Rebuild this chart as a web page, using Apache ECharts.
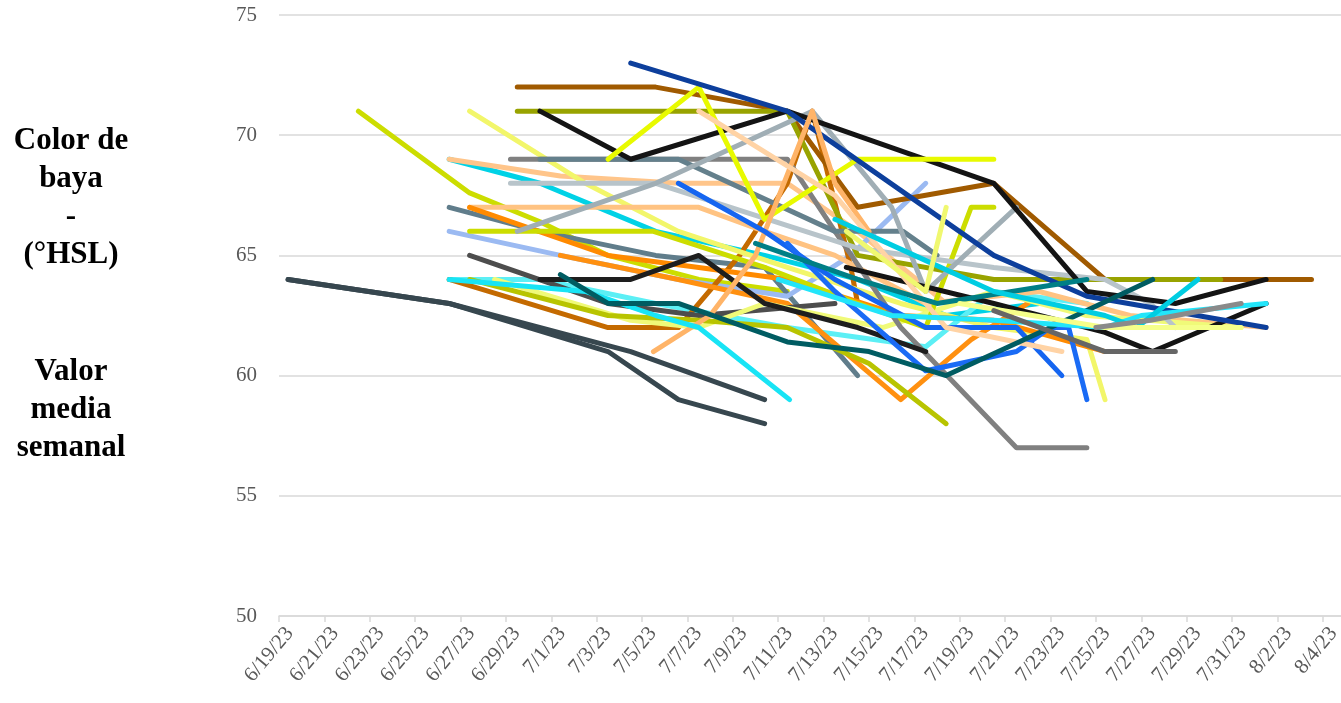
<!DOCTYPE html>
<html>
<head>
<meta charset="utf-8">
<script src="https://cdn.jsdelivr.net/npm/echarts@6/dist/echarts.min.js"></script>
<style>
  html, body { margin: 0; padding: 0; background: #fff; }
  #main { width: 1341px; height: 703px; }
</style>
</head>
<body>
<div id="main"></div>
<script>
// eje x: dias desde 6/19/23, eje y: color de baya (°HSL)
const startDate = new Date(2023, 5, 19)
const tickDays = [0, 2, 4, 6, 8, 10, 12, 14, 16, 18, 20, 22, 24, 26, 28, 30, 32, 34, 36, 38, 40, 42, 44, 46]
const yTicks = [50, 55, 60, 65, 70, 75]
const titleTop = ["Color de", "baya", "-", "(°HSL)"]
const titleBottom = ["Valor", "media", "semanal"]

// series: [dia, valor]
const s01 = [[0.4, 64], [7.5, 63], [14.5, 61], [17.6, 59], [21.4, 58]]
const s02 = [[0.4, 64], [7.5, 63], [15.5, 61], [21.4, 59]]
const s03 = [[3.5, 71], [8.4, 67.6], [11.5, 66.4], [14.5, 65], [18.5, 64], [22.4, 63.5]]
const s04 = [[7.5, 69], [11.5, 68], [16.6, 66], [21.4, 65], [25.5, 64], [29.4, 62.5], [33.5, 63]]
const s05 = [[7.5, 69], [12.4, 68.3], [17.6, 68], [22.4, 68], [25.5, 66], [29.4, 63]]
const s06 = [[7.5, 67], [11.5, 66], [16.6, 65], [21.4, 64.5], [25.5, 60]]
const s07 = [[7.5, 66], [12.4, 65], [17.6, 64], [22.4, 63.3], [25.2, 65], [28.5, 68]]
const s08 = [[7.5, 64], [11.5, 64], [16.6, 63], [22.4, 62], [28.5, 61.2], [31.5, 63.5], [35.6, 63]]
const s09 = [[7.5, 64], [14.5, 62], [17.6, 62], [20.3, 65], [22.4, 68], [23.5, 71], [25.2, 64.5], [25.5, 63]]
const s10 = [[8.4, 71], [13.5, 68], [17.6, 66], [22.4, 64.5], [27.4, 63], [31.5, 62], [35.6, 61.5], [36.4, 59]]
const s11 = [[8.4, 67], [13.5, 67], [18.5, 67], [21.4, 66], [24.5, 65], [28.5, 63], [33.5, 63.5], [37.5, 62.5], [43.5, 62]]
const s12 = [[8.4, 67], [14.5, 65], [18.5, 64.5], [22.4, 64], [27.4, 62.5], [31.5, 62.3], [36.4, 61]]
const s13 = [[12.4, 65], [17.6, 64], [22.4, 63], [27.4, 59], [30.5, 61.5], [33, 63]]
const s14 = [[8.4, 65], [14.5, 63], [18.5, 62.5], [24.5, 63]]
const s15 = [[9.5, 64], [15.5, 62.3], [18.5, 62], [21.4, 63], [26.6, 62], [31.5, 63.5], [35.6, 62.5], [42.4, 62]]
const s16 = [[8.4, 64], [14.5, 62.5], [18.5, 62.3], [22.4, 62], [26, 60.5], [29.4, 58]]
const s17 = [[8.4, 66], [16.5, 66], [21.4, 64.5], [25.5, 63], [28.5, 62], [30.5, 67], [31.5, 67]]
const s18 = [[10.5, 72], [16.6, 72], [22.4, 71], [25.5, 67], [31.5, 68], [36.4, 64], [45.5, 64]]
const s19 = [[10.5, 71], [22.4, 71], [25.5, 65], [31.5, 64], [41.5, 64]]
const s20 = [[10.2, 69], [22.4, 69], [24.5, 66], [27.4, 62], [32.5, 57], [35.6, 57]]
const s21 = [[11.5, 69], [17.6, 69], [24.5, 66], [27.5, 66], [29, 65]]
const s22 = [[10.2, 68], [16.6, 68], [25.5, 65.3], [31.5, 64.5], [36.4, 64], [38.4, 63], [39.5, 62]]
const s23 = [[10.5, 66], [16.6, 68], [23.5, 71], [27, 67], [28.5, 63.5], [32.5, 67]]
const s24 = [[11.5, 71], [15.5, 69], [22.4, 71], [31.5, 68], [35.6, 63.5], [39.5, 63], [43.5, 64]]
const s25 = [[11.5, 64], [15.5, 64], [18.5, 65], [21.4, 63], [25.5, 62], [28.5, 61]]
const s26 = [[25, 64.5], [31.5, 63], [36.4, 61.8], [38.5, 61], [43.5, 63]]
const s27 = [[14.5, 69], [18.5, 72], [21.4, 66.5], [25.5, 69], [31.5, 69]]
const s28 = [[15.5, 73], [22.4, 71], [31.5, 65], [35.6, 63.3], [43.5, 62]]
const s29 = [[16.5, 61], [19, 62.5], [21, 65], [23.5, 71], [24.5, 68], [26, 66]]
const s30 = [[17.6, 68], [21.4, 66], [24.5, 64], [28.5, 62], [32.5, 62], [34.5, 60]]
const s31 = [[22.4, 65.5], [24.5, 63.5], [28.5, 60.2], [32.5, 61], [34, 62], [34.8, 62], [35.6, 59]]
const s32 = [[7.5, 64], [13.5, 63.5], [16.6, 62.5], [18.5, 62], [22.5, 59]]
const s33 = [[18.5, 71], [24.5, 67.5], [28.5, 63], [29.4, 62], [34.5, 61]]
const s34 = [[12.4, 64.2], [14.5, 63], [17.6, 63], [22.4, 61.4], [26, 61], [29.4, 60], [34, 62], [38.5, 64]]
const s35 = [[21, 65.5], [25.5, 64], [29, 63], [35.6, 64]]
const s36 = [[22, 64], [27, 62.5], [31.5, 62.3], [36.4, 62], [38, 62.5], [43.5, 63]]
const s37 = [[24.5, 66.5], [28, 65], [31.5, 63.5], [36.4, 62.5], [37.8, 62], [40.5, 64]]
const s38 = [[30, 63], [36.4, 62], [42.4, 62]]
const s39 = [[36, 62], [38.4, 62.3], [42.4, 63]]
const s40 = [[31.5, 62.7], [36.4, 61], [39.5, 61]]
const s41 = [[25, 66], [28.5, 63.5], [29.4, 67]]

const seriesData = [s01, s02, s03, s04, s05, s06, s07, s08, s09, s10, s11, s12, s13, s14, s15, s16, s17, s18, s19, s20,
  s21, s22, s23, s24, s25, s26, s27, s28, s29, s30, s31, s32, s33, s34, s35, s36, s37, s38, s39, s40, s41]

const seriesColors = ['#37474F', '#37474F', '#CCDD00', '#00D2E6', '#FFC58A', '#607D8B', '#9BBAF2', '#5CEFF5', '#C46A00', '#F2F66A',
  '#FFC382', '#FF8A00', '#FF9010', '#4D4D4D', '#F0FA78', '#B8C400', '#CCDD00', '#A05A00', '#98A300', '#808080',
  '#64808C', '#B8C4CA', '#A0AEB5', '#141414', '#1E1E1E', '#141414', '#E8FA00', '#0D3F9C', '#FFB468', '#1565F0',
  '#1A6BF5', '#18E4F5', '#FFD3A5', '#005C62', '#007F86', '#22E5FA', '#00CDE2', '#F5FF8A', '#8A8A8A', '#666666', '#F0F870']

function dayLabel(d) {
  let t = new Date(startDate.getTime() + d * 86400000)
  return (t.getMonth() + 1) + '/' + t.getDate() + '/' + String(t.getFullYear()).slice(2)
}

var myChart = echarts.init(document.getElementById('main'))

var option = {
  animation: false,
  grid: { left: 279, right: 0, top: 15, bottom: 87, outerBoundsMode: 'none' },
  graphic: [
    {
      type: 'text', x: 71, y: 122,
      style: {
        text: titleTop.join('\n'), textAlign: 'center', textVerticalAlign: 'top',
        font: 'bold 31px "Liberation Serif"', lineHeight: 38, fill: '#000'
      }
    },
    {
      type: 'text', x: 71, y: 353,
      style: {
        text: titleBottom.join('\n'), textAlign: 'center', textVerticalAlign: 'top',
        font: 'bold 31px "Liberation Serif"', lineHeight: 38, fill: '#000'
      }
    }
  ],
  xAxis: {
    type: 'value', min: 0, max: 46.8,
    splitLine: { show: false },
    axisLine: { lineStyle: { color: '#D9D9D9', width: 1.5 } },
    axisTick: { show: true, customValues: tickDays, length: 6, lineStyle: { color: '#D9D9D9', width: 1.5 } },
    axisLabel: {
      customValues: tickDays, rotate: 50, margin: 5,
      verticalAlign: 'top', lineHeight: 28,
      color: '#595959', fontFamily: 'Liberation Serif', fontSize: 21,
      formatter: v => dayLabel(v)
    }
  },
  yAxis: {
    type: 'value', min: yTicks[0], max: yTicks[yTicks.length - 1], interval: 5,
    axisLine: { show: false },
    axisTick: { show: false },
    splitLine: { lineStyle: { color: '#D9D9D9', width: 1.5 } },
    axisLabel: { color: '#595959', fontFamily: 'Liberation Serif', fontSize: 21, margin: 22 }
  },
  series: seriesData.map((d, i) => ({
    type: 'line',
    data: d,
    showSymbol: false,
    symbol: 'none',
    lineStyle: { color: seriesColors[i], width: 5, cap: 'round', join: 'round' },
    itemStyle: { color: seriesColors[i] }
  }))
}

myChart.setOption(option)
</script>
</body>
</html>
